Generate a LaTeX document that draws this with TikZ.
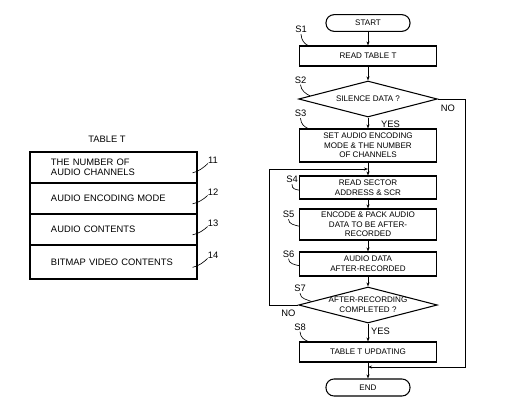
\documentclass[tikz,border=0pt]{standalone}
\usepackage{fontspec}
\setmainfont{Liberation Sans}
\usetikzlibrary{shapes.geometric,arrows.meta,calc}

\tikzset{
  box/.style={draw, line width=0.9pt, minimum width=4.11cm, inner sep=0pt, align=center, font=\fontsize{6.9}{8.2}\selectfont},
  term/.style={draw, line width=0.9pt, rounded corners=2.4mm, minimum width=2.52cm, minimum height=0.5cm, inner sep=0pt, font=\fontsize{6.9}{8}\selectfont},
  test/.style={draw, diamond, aspect=3.8, line width=0.9pt, minimum width=4.16cm, minimum height=1.08cm, inner sep=0pt, align=center, font=\fontsize{6.9}{8.2}\selectfont},
  row/.style={draw, line width=0.9pt, text width=3.75cm, inner xsep=0.63cm, inner ysep=0pt, align=left, font=\fontsize{8}{8.2}\selectfont},
  tag/.style={inner sep=0pt, font=\fontsize{8}{9}\selectfont},
  arr/.style={line width=0.7pt, -{Stealth[length=3.5pt,width=2.6pt]}},
  leader/.style={line width=0.55pt},
}

\begin{document}
\begin{tikzpicture}[x=0.03cm, y=-0.03cm]
        \useasboundingbox (0,0) rectangle (507,416);

        % table T
        \node[tag] (title) at (107,139) {TABLE T};
        \node[row, minimum height=0.93cm] (r1) at (113.5,167.5) {THE NUMBER OF\\AUDIO CHANNELS};
        \node[row, minimum height=0.93cm] (r2) at (113.5,198.5) {AUDIO ENCODING MODE};
        \node[row, minimum height=0.93cm] (r3) at (113.5,229.5) {AUDIO CONTENTS};
        \node[row, minimum height=1.02cm] (r4) at (113.5,262) {BITMAP VIDEO CONTENTS};

        \node[tag] (n1) at (213,160) {11};
        \node[tag] (n2) at (213,192) {12};
        \node[tag] (n3) at (213,223) {13};
        \node[tag] (n4) at (213,255) {14};
        \foreach \i in {1,...,4}
            \draw[leader] ([xshift=-0.15cm, yshift=-0.16cm]r\i.east) .. controls +(6,-1) and +(-3,3) .. (n\i.south west);

        % flow chart
        \node[term] (start) at (368,23) {START};
        \node[box, minimum height=0.6cm] (s1) at (368,56) {READ TABLE T};
        \node[test] (s2) at (368,99) {SILENCE DATA ?};
        \node[box, minimum height=0.99cm] (s3) at (368,145.5) {SET AUDIO ENCODING\\MODE \& THE NUMBER\\OF CHANNELS};
        \node[box, minimum height=0.69cm] (s4) at (368,187.5) {READ SECTOR\\ADDRESS \& SCR};
        \node[box, minimum height=0.93cm] (s5) at (368,224.5) {ENCODE \& PACK AUDIO\\DATA TO BE AFTER-\\RECORDED};
        \node[box, minimum height=0.72cm] (s6) at (368,264) {AUDIO DATA\\AFTER-RECORDED};
        \node[test, inner xsep=-3pt, inner ysep=-1.5pt] (s7) at (368,305) {AFTER-RECORDING\\COMPLETED ?};
        \node[box, minimum height=0.6cm] (s8) at (368,352) {TABLE T UPDATING};
        \node[term, minimum height=0.51cm] (stop) at (368,387.5) {END};

        \coordinate (j1) at (368,169);
        \coordinate (j2) at (368,367);
        \coordinate (lp) at (269,169);
        \coordinate (rp) at (465,367);

        \draw[arr] (start) -- (s1);
        \draw[arr] (s1) -- (s2);
        \draw[arr] (s2) -- (s3);
        \draw[arr] (s3) -- (s4);
        \draw[arr] (s4) -- (s5);
        \draw[arr] (s5) -- (s6);
        \draw[arr] (s6) -- (s7);
        \draw[arr] (s7) -- (s8);
        \draw[arr] (s8) -- (stop);
        \draw[arr] (s7.west) -| (lp) -- (j1);
        \draw[arr] (s2.east) -| (rp) -- (j2);

        % yes / no
        \node[tag, anchor=west] (yes2) at (381,124.5) {YES};
        \node[tag] (no2) at (448,108.5) {NO};
        \node[tag, anchor=west] (yes7) at (371,331) {YES};
        \node[tag] (no7) at (288.5,313.5) {NO};

        % step labels
        \node[tag] (t1) at (301,29.5) {S1};
        \node[tag] (t2) at (300.5,80) {S2};
        \node[tag] (t3) at (300.5,113.5) {S3};
        \node[tag] (t4) at (292,179.5) {S4};
        \node[tag] (t5) at (288.5,214.5) {S5};
        \node[tag] (t6) at (288.5,254) {S6};
        \node[tag] (t7) at (300,288.5) {S7};
        \node[tag] (t8) at (300,327) {S8};

        \draw[leader] ([yshift=-1pt]t1.south) .. controls +(0.5,6) and +(-4,-2) .. ([xshift=0.27cm]s1.north west);
        \draw[leader] ([yshift=-1pt]t2.south) .. controls +(0.5,6) and +(-4,-2) .. ($(s2.west)!0.17!(s2.north)$);
        \draw[leader] ([yshift=-1pt]t3.south) .. controls +(0.5,6) and +(-4,-2) .. ([xshift=0.27cm]s3.north west);
        \draw[leader] ([yshift=-1pt]t4.south) .. controls +(0,5) and +(-4,-1) .. ([yshift=-0.08cm]s4.west);
        \draw[leader] ([yshift=-1pt]t5.south) .. controls +(0,5) and +(-4,-1) .. ([yshift=-0.05cm]s5.west);
        \draw[leader] ([yshift=-1pt]t6.south) .. controls +(0,5) and +(-4,-1) .. ([yshift=-0.05cm]s6.west);
        \draw[leader] ([yshift=-1pt]t7.south) .. controls +(0.5,6) and +(-4,-2) .. ($(s7.west)!0.19!(s7.north)$);
        \draw[leader] ([yshift=-1pt]t8.south) .. controls +(0.5,6) and +(-4,-2) .. ([xshift=0.27cm]s8.north west);
    \end{tikzpicture}
\end{document}
